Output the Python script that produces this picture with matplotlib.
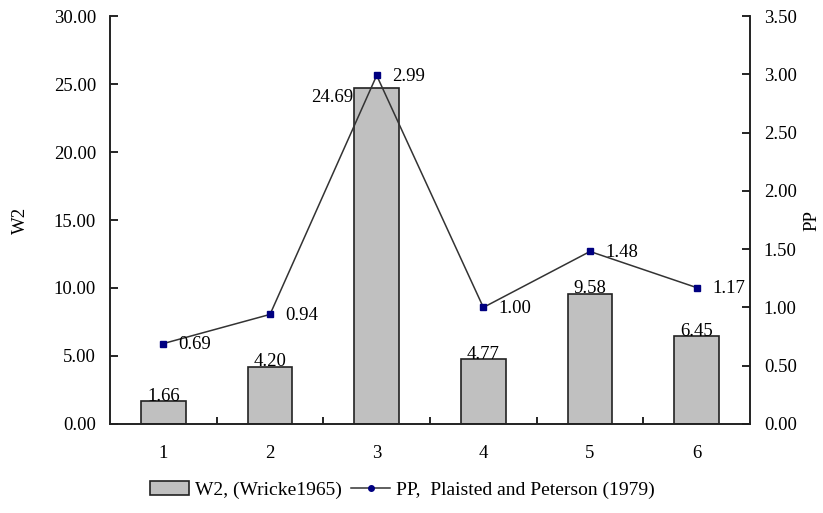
import matplotlib
matplotlib.use("Agg")
import matplotlib.pyplot as plt
from matplotlib.lines import Line2D
from matplotlib.patches import Patch

plt.rcParams['font.family'] = ['Liberation Serif', 'DejaVu Serif']

# data
cats = [1, 2, 3, 4, 5, 6]
w2 = [1.66, 4.20, 24.69, 4.77, 9.58, 6.45]
pp = [0.69, 0.94, 2.99, 1.00, 1.48, 1.17]
w2_ticks = [0, 5, 10, 15, 20, 25, 30]
pp_ticks = [0, 0.5, 1.0, 1.5, 2.0, 2.5, 3.0, 3.5]

fs = 13.5
fig = plt.figure(figsize=(8.23, 5.13), dpi=100)
ax = fig.add_axes([0.1337, 0.1735, 0.7776, 0.7953])
ax2 = ax.twinx()

# bars
ax.bar(cats, w2, width=0.42, color='#c0c0c0', edgecolor='#222222', linewidth=1.2, zorder=2)
for x, v in zip(cats, w2):
    if v > 20:
        ax.annotate(f"{v:.2f}", (x - 0.21, v), xytext=(-1, -7), textcoords='offset points',
                    ha='right', va='center', fontsize=fs)
    else:
        ax.annotate(f"{v:.2f}", (x, v), xytext=(0, -2.5), textcoords='offset points',
                    ha='center', va='bottom', fontsize=fs)

ax.set_xlim(0.5, 6.5)
ax.set_ylim(0, 30)
ax.set_yticks(w2_ticks)
ax.set_yticklabels([f"{t:.2f}" for t in w2_ticks], fontsize=fs)
ax.set_xticks(cats)
ax.set_xticklabels([str(c) for c in cats], fontsize=fs)
ax.set_xticks([c + 0.5 for c in cats[:-1]], minor=True)
ax.tick_params(axis='x', which='major', length=0, pad=15)
ax.tick_params(axis='x', which='minor', direction='in', length=5, width=1.2)
ax.tick_params(axis='y', direction='in', length=6, width=1.2, pad=10)
ax.set_ylabel('W2', fontsize=fs, labelpad=18)

# line
ax2.plot(cats, pp, color='#333333', linewidth=1.1, marker='s', markersize=4,
         markerfacecolor='#000080', markeredgecolor='#000080', zorder=3)
for x, v in zip(cats, pp):
    ax2.annotate(f"{v:.2f}", (x, v), xytext=(11, -1), textcoords='offset points',
                 ha='left', va='center', fontsize=fs)
ax2.set_ylim(0, 3.5)
ax2.set_yticks(pp_ticks)
ax2.set_yticklabels([f"{t:.2f}" for t in pp_ticks], fontsize=fs)
ax2.tick_params(axis='y', direction='in', length=6, width=1.2, pad=10)
ax2.set_ylabel('PP', fontsize=fs, labelpad=5)

for a in (ax, ax2):
    a.spines['top'].set_visible(False)
    for s in ('left', 'right', 'bottom'):
        a.spines[s].set_linewidth(1.2)
        a.spines[s].set_color('#222222')

handles = [Patch(facecolor='#c0c0c0', edgecolor='#222222', linewidth=1.2),
           Line2D([], [], color='#333333', linewidth=1.1, marker='o', markersize=4,
                  markerfacecolor='#000080', markeredgecolor='#000080')]
labels = ['W2, (Wricke1965)', 'PP,  Plaisted and Peterson (1979)']
fig.legend(handles, labels, loc='center', bbox_to_anchor=(0.489, 0.045), ncol=2,
           frameon=False, fontsize=14, handlelength=2.0, columnspacing=0.5,
           handletextpad=0.3)

fig.savefig('out.png', dpi=100)
